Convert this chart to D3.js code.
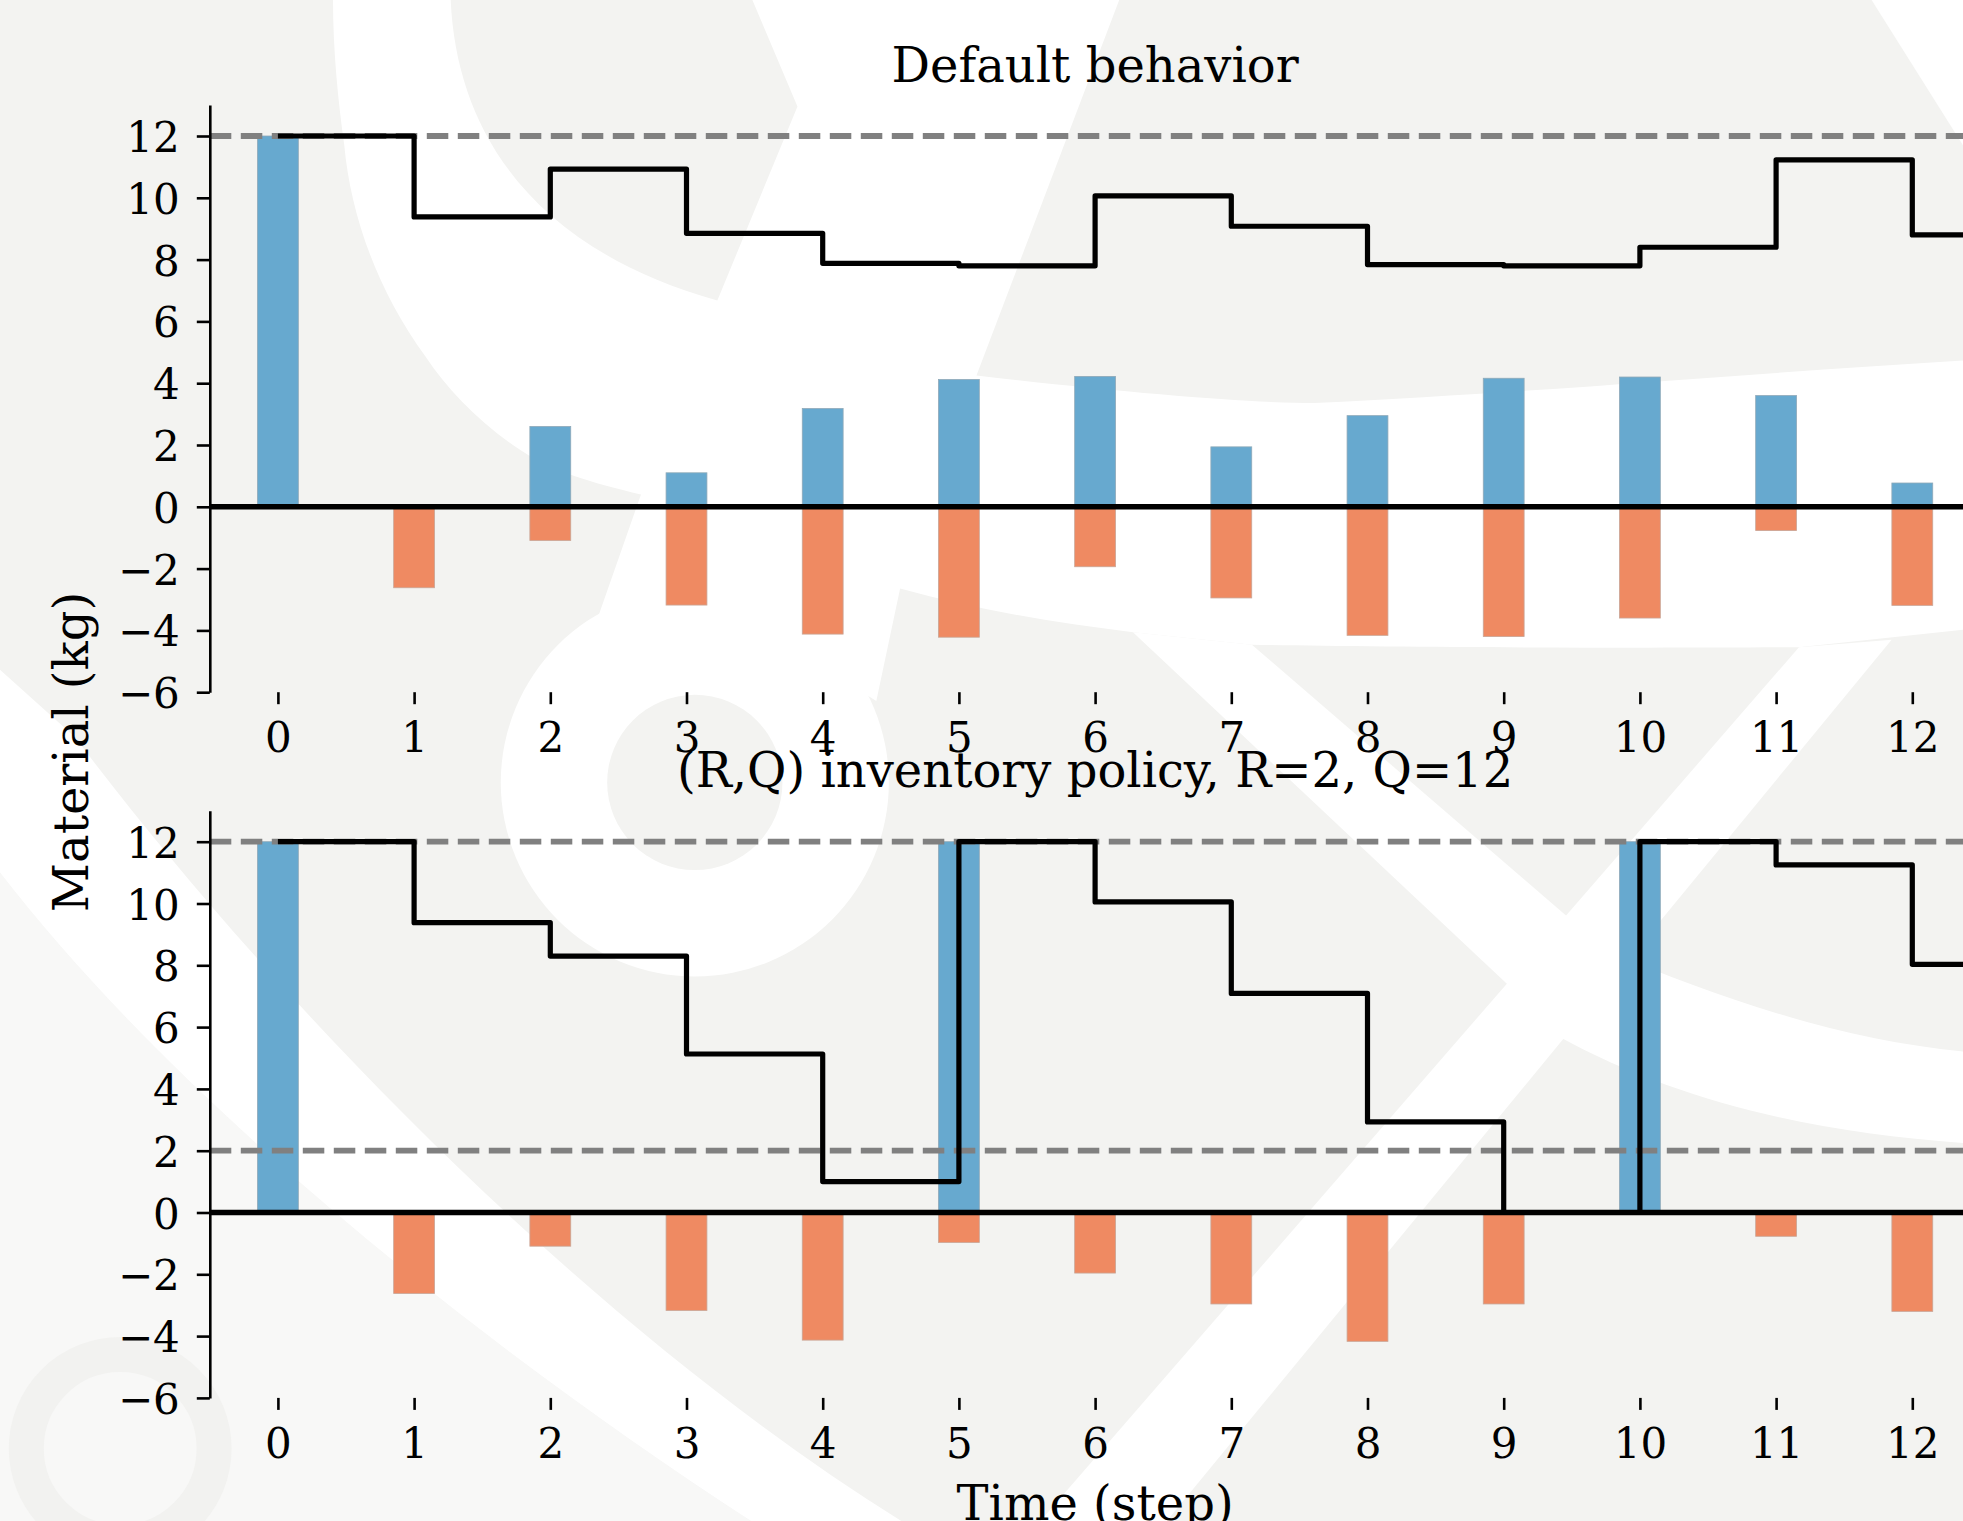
<!DOCTYPE html>
<html>
<head>
<meta charset="utf-8">
<script src="https://cdn.jsdelivr.net/npm/d3@7"></script>
<style>
  body { margin: 0; background: #f3f3f1; }
  svg { display: block; }
  text { font-family: "DejaVu Serif", serif; fill: #000; }
</style>
</head>
<body>
<svg id="chart" width="1963" height="1521"></svg>
<script>
// time steps
var steps = [0, 1, 2, 3, 4, 5, 6, 7, 8, 9, 10, 11, 12]
var yTicks = [-6, -4, -2, 0, 2, 4, 6, 8, 10, 12]

// default behavior: replenishment, consumption, stock level
var defaultIn = [12, 0, 2.6, 1.1, 3.18, 4.12, 4.22, 1.94, 2.95, 4.16, 4.2, 3.6, 0.77]
var defaultOut = [0, 2.62, 1.09, 3.18, 4.12, 4.22, 1.94, 2.95, 4.16, 4.2, 3.6, 0.77, 3.19]
var defaultLevel = [12, 9.38, 10.93, 8.85, 7.88, 7.8, 10.06, 9.08, 7.84, 7.8, 8.4, 11.23, 8.8]

// (R,Q) policy
var rqIn = [12, 0, 0, 0, 0, 12, 0, 0, 0, 0, 12, 0, 0]
var rqOut = [0, 2.62, 1.09, 3.17, 4.13, 0.97, 1.96, 2.96, 4.17, 2.96, 0, 0.77, 3.2]
var rqLevel = [12, 9.38, 8.3, 5.13, 1.0, 12, 10.05, 7.09, 2.93, 0, 12, 11.25, 8.03]

var panels = [
    { title: "Default behavior", inflow: defaultIn, outflow: defaultOut, level: defaultLevel, refs: [12], top: 105.1 },
    { title: "(R,Q) inventory policy, R=2, Q=12", inflow: rqIn, outflow: rqOut, level: rqLevel, refs: [12, 2], top: 810.8 }
]

var svg = d3.select("#chart")
var W = 1963, H = 1521
var panelHeight = 587.1
var tickFont = 42, labelFont = 48
var bgGray = "#f3f3f1"

// background watermark (rough copy of the logo behind the plot)
var bg = svg.append("g")
bg.append("rect").attr("width", W).attr("height", H).attr("fill", bgGray)
var wm = bg.append("g").attr("transform", "scale(1.2519)")
wm.append("path").attr("fill", "#f8f8f7")
    .attr("d", "M0,697 C150,891 400,1085 600,1215 L0,1215 Z")
wm.append("circle").attr("cx", 96).attr("cy", 1157).attr("r", 75)
    .attr("fill", "none").attr("stroke", "#f2f2f0").attr("stroke-width", 28)
wm.append("path").attr("fill", "#fff")
    .attr("d", "M266,0 L360,0 C365,110 430,200 573,240 L637,85 L601,0 L894,0 L780,300 " +
        "C900,314 1000,322 1050,322 C1250,312 1400,298 1568,288 L1568,503 L1437,517 " +
        "C1300,518 1100,517 1000,515 L905,505 C840,497 780,487 719,470 L700,560 L555,470 " +
        "L478,492 L512,395 C470,385 440,375 428,367 C390,345 360,315 340,285 " +
        "C300,230 280,170 275,116 C270,80 266,40 266,0 Z")
wm.append("circle").attr("cx", 555).attr("cy", 625).attr("r", 155).attr("fill", "#fff")
wm.append("circle").attr("cx", 555).attr("cy", 625).attr("r", 70).attr("fill", bgGray)
wm.append("path").attr("fill", "#fff").attr("d", "M1495,0 L1568,0 L1568,116 Z")
wm.append("path").attr("fill", "#fff").attr("d", "M905,505 L1000,515 L1290,765 L1240,820 Z")
wm.append("path").attr("fill", "#fff")
    .attr("d", "M1280,758 C1380,800 1470,830 1568,840 L1568,913 C1450,905 1340,880 1245,828 Z")
wm.append("path").attr("fill", "#fff").attr("d", "M1437,517 L1511,511 L932,1215 L831,1215 Z")
wm.append("path").attr("fill", "#fff")
    .attr("d", "M0,535 L60,589 C200,775 450,1046 720,1215 L600,1215 C400,1085 150,891 0,697 Z")

var x = d3.scaleLinear().domain([-0.5, 12.5]).range([209.8, 1980.4])

panels.forEach(function (p) {
    var y = d3.scaleLinear().domain([-6, 13]).range([p.top + panelHeight, p.top])
    var g = svg.append("g")

    // bars
    g.selectAll(".inflow")
        .data(steps.filter(function (d) { return p.inflow[d] > 0 }))
        .enter().append("rect")
        .attr("x", function (d) { return x(d - 0.15) })
        .attr("width", x(0.15) - x(-0.15))
        .attr("y", function (d) { return y(p.inflow[d]) })
        .attr("height", function (d) { return y(0) - y(p.inflow[d]) })
        .attr("fill", "#67a9cf")
        .attr("stroke", "#8fa9b8").attr("stroke-width", 0.8)

    g.selectAll(".outflow")
        .data(steps.filter(function (d) { return p.outflow[d] > 0 }))
        .enter().append("rect")
        .attr("x", function (d) { return x(d - 0.15) })
        .attr("width", x(0.15) - x(-0.15))
        .attr("y", y(0))
        .attr("height", function (d) { return y(-p.outflow[d]) - y(0) })
        .attr("fill", "#ef8a62")
        .attr("stroke", "#c9a596").attr("stroke-width", 0.8)

    // reference lines
    p.refs.forEach(function (r) {
        g.append("line")
            .attr("x1", x(-0.5)).attr("x2", x(12.5))
            .attr("y1", y(r)).attr("y2", y(r))
            .attr("stroke", "#808080").attr("stroke-width", 5.8)
            .attr("stroke-dasharray", "21.5,9.5")
    })

    g.append("line")
        .attr("x1", x(-0.5)).attr("x2", x(12.5))
        .attr("y1", y(0)).attr("y2", y(0))
        .attr("stroke", "#000").attr("stroke-width", 5.4)

    // stock level as post step
    var pts = steps.map(function (d) { return [d, p.level[d]] })
    pts.push([12.5, p.level[p.level.length - 1]])
    var line = d3.line()
        .x(function (d) { return x(d[0]) })
        .y(function (d) { return y(d[1]) })
        .curve(d3.curveStepAfter)
    g.append("path")
        .attr("d", line(pts))
        .attr("fill", "none")
        .attr("stroke", "#000")
        .attr("stroke-width", 5.2)
        .attr("stroke-linejoin", "round")

    // axes
    var yAxis = d3.axisLeft(y).tickValues(yTicks).tickSize(13).tickSizeOuter(0).tickPadding(17)
    var ya = g.append("g").attr("transform", "translate(" + x(-0.5) + ",0)").call(yAxis)
    ya.select(".domain").attr("stroke-width", 2.6)
    ya.selectAll(".tick line").attr("stroke-width", 2.6)
    ya.selectAll("text").attr("font-size", tickFont).attr("dy", "0.37em")
        .style("font-family", "'DejaVu Serif', serif")

    var xAxis = d3.axisBottom(x).tickValues(steps).tickSize(12).tickPadding(18).tickFormat(d3.format("d"))
    var xa = g.append("g").attr("transform", "translate(0," + (p.top + panelHeight) + ")").call(xAxis)
    xa.select(".domain").remove()
    xa.selectAll(".tick line").attr("stroke-width", 2.6)
    xa.selectAll("text").attr("font-size", tickFont)
        .style("font-family", "'DejaVu Serif', serif")

    svg.append("text")
        .attr("x", x(6)).attr("y", p.top - 23.5)
        .attr("text-anchor", "middle")
        .attr("font-size", labelFont)
        .text(p.title)
})

svg.append("text")
    .attr("transform", "translate(88,752) rotate(-90)")
    .attr("text-anchor", "middle")
    .attr("font-size", labelFont)
    .text("Material (kg)")

svg.append("text")
    .attr("x", x(6)).attr("y", 1520)
    .attr("text-anchor", "middle")
    .attr("font-size", labelFont)
    .text("Time (step)")
</script>
</body>
</html>
